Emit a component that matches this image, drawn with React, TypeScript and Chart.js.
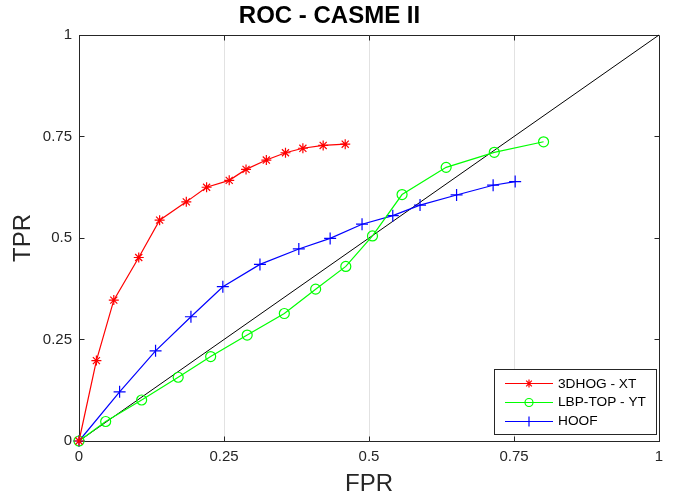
import React, { useEffect, useRef } from 'react';
import { Chart, registerables } from 'chart.js';

Chart.register(...registerables);

// ---- data ----
const tickValues = [0, 0.25, 0.5, 0.75, 1];
const tickLabels = ['0', '0.25', '0.5', '0.75', '1'];

const chartTitle = 'ROC - CASME II';
const xTitle = 'FPR';
const yTitle = 'TPR';
const seriesNames = ['3DHOG - XT', 'LBP-TOP - YT', 'HOOF'];

const hogFpr = [0, 0.030, 0.060, 0.103, 0.139, 0.185, 0.220, 0.259, 0.288, 0.323, 0.356, 0.386, 0.421, 0.459];
const hogTpr = [0, 0.198, 0.347, 0.452, 0.544, 0.589, 0.625, 0.642, 0.669, 0.692, 0.710, 0.721, 0.728, 0.731];

const lbpFpr = [0, 0.046, 0.108, 0.171, 0.227, 0.290, 0.354, 0.408, 0.460, 0.506, 0.557, 0.633, 0.716, 0.801];
const lbpTpr = [0, 0.048, 0.101, 0.157, 0.208, 0.261, 0.314, 0.374, 0.430, 0.505, 0.607, 0.674, 0.711, 0.737];

const hoofFpr = [0, 0.070, 0.132, 0.193, 0.248, 0.312, 0.379, 0.433, 0.488, 0.541, 0.588, 0.651, 0.714, 0.752];
const hoofTpr = [0, 0.121, 0.222, 0.306, 0.380, 0.435, 0.473, 0.499, 0.534, 0.555, 0.581, 0.606, 0.630, 0.639];

const chanceFpr = [0, 1];
const chanceTpr = [0, 1];

// ---- styles ----
const FONT = "'Liberation Sans', Arial, Helvetica, sans-serif";
const AXIS_COLOR = '#262626';
const GRID_COLOR = '#e2e2e2';
const LINE_W = 1.2;

const toPoints = (xs: number[], ys: number[]) => xs.map((x, i) => ({ x, y: ys[i] }));

const align = (p: number) => Math.round(p - 0.5) + 0.5;

function drawMarker(ctx: CanvasRenderingContext2D, style: string, x: number, y: number, r: number) {
  ctx.beginPath();
  if (style === 'circle') {
    ctx.arc(x, y, r, 0, Math.PI * 2);
  } else if (style === 'cross') {
    ctx.moveTo(x - r, y); ctx.lineTo(x + r, y);
    ctx.moveTo(x, y - r); ctx.lineTo(x, y + r);
  } else if (style === 'star') {
    ctx.moveTo(x - r, y); ctx.lineTo(x + r, y);
    ctx.moveTo(x, y - r); ctx.lineTo(x, y + r);
    const d = r * Math.SQRT1_2;
    ctx.moveTo(x - d, y - d); ctx.lineTo(x + d, y + d);
    ctx.moveTo(x - d, y + d); ctx.lineTo(x + d, y - d);
  }
  ctx.stroke();
}

const boxPlugin = {
  id: 'matlabBox',
  beforeDatasetsDraw(chart: any) {
    const { ctx, chartArea: a, scales } = chart;
    ctx.save();
    ctx.strokeStyle = AXIS_COLOR;
    ctx.lineWidth = 1;
    const L = align(a.left), R = align(a.right), T = align(a.top), B = align(a.bottom);
    ctx.beginPath();
    ctx.moveTo(L, T); ctx.lineTo(R, T); ctx.lineTo(R, B);
    ctx.stroke();
    const tl = 5;
    ctx.beginPath();
    tickValues.forEach((v) => {
      if (v <= 0 || v >= 1) return;
      const px = align(scales.x.getPixelForValue(v));
      ctx.moveTo(px, B); ctx.lineTo(px, B - tl);
      ctx.moveTo(px, T); ctx.lineTo(px, T + tl);
      const py = align(scales.y.getPixelForValue(v));
      ctx.moveTo(L, py); ctx.lineTo(L + tl, py);
      ctx.moveTo(R, py); ctx.lineTo(R - tl, py);
    });
    ctx.stroke();
    ctx.restore();
  },
};

const legendPlugin = {
  id: 'matlabLegend',
  afterDraw(chart: any) {
    const { ctx, chartArea: a } = chart;
    const w = 162, h = 65;
    const right = a.right - 3, bottom = a.bottom - 7;
    const left = right - w, top = bottom - h;
    ctx.save();
    ctx.fillStyle = '#ffffff';
    ctx.fillRect(left, top, w, h);
    ctx.strokeStyle = AXIS_COLOR;
    ctx.lineWidth = 1;
    ctx.strokeRect(align(left), align(top), w, h);
    ctx.font = `13.7px ${FONT}`;
    ctx.textBaseline = 'middle';
    ctx.textAlign = 'left';
    seriesNames.forEach((name, i) => {
      const ds = chart.data.datasets[i];
      const y = top + 14.3 + i * 18.9;
      ctx.strokeStyle = ds.borderColor;
      ctx.lineWidth = LINE_W;
      ctx.beginPath();
      ctx.moveTo(left + 11, Math.round(y) + 0.5);
      ctx.lineTo(left + 59, Math.round(y) + 0.5);
      ctx.stroke();
      drawMarker(ctx, ds.pointStyle, left + 35, Math.round(y) + 0.5, ds.pointStyle === 'cross' ? 5 : 4);
      ctx.fillStyle = '#000000';
      ctx.fillText(name, left + 64, y + 0.5);
    });
    ctx.restore();
  },
};

export default function App() {
  const ref = useRef<HTMLCanvasElement | null>(null);

  useEffect(() => {
    if (!ref.current) return;
    const tickCb = (v: any) => {
      const i = tickValues.indexOf(Number(v));
      return i >= 0 ? tickLabels[i] : '';
    };
    const series = (name: string, xs: number[], ys: number[], color: string, style: string, r: number) => ({
      label: name,
      data: toPoints(xs, ys),
      borderColor: color,
      backgroundColor: color,
      borderWidth: LINE_W,
      pointStyle: style,
      pointRadius: r,
      pointBorderWidth: LINE_W,
      pointBorderColor: color,
      pointBackgroundColor: 'rgba(0,0,0,0)',
      tension: 0,
      fill: false,
      clip: false,
    });
    const chart = new Chart(ref.current, {
      type: 'line',
      data: {
        datasets: [
          series(seriesNames[0], hogFpr, hogTpr, '#ff0000', 'star', 5),
          series(seriesNames[1], lbpFpr, lbpTpr, '#00ff00', 'circle', 5),
          series(seriesNames[2], hoofFpr, hoofTpr, '#0000ff', 'cross', 6),
          {
            label: 'chance',
            data: toPoints(chanceFpr, chanceTpr),
            borderColor: '#000000',
            borderWidth: 1,
            pointRadius: 0,
            tension: 0,
            fill: false,
            clip: false,
          },
        ] as any,
      },
      options: {
        animation: false,
        responsive: false,
        devicePixelRatio: 1,
        events: [],
        layout: { padding: { left: 0, right: 18, top: 0, bottom: 0 } },
        plugins: {
          legend: { display: false },
          tooltip: { enabled: false },
          title: {
            display: true,
            text: chartTitle,
            color: '#000000',
            font: { family: FONT, size: 24, weight: 'bold' },
            padding: { top: 2, bottom: 4.2 },
          },
        },
        scales: {
          x: {
            type: 'linear',
            position: 'bottom',
            min: 0,
            max: 1,
            afterBuildTicks: (s: any) => {
              s.ticks = tickValues.map((v) => ({ value: v }));
            },
            afterFit: (s: any) => {
              s.height = 59;
            },
            ticks: {
              callback: tickCb,
              autoSkip: false,
              maxRotation: 0,
              padding: 7,
              color: AXIS_COLOR,
              font: { family: FONT, size: 15 },
            },
            grid: {
              drawTicks: false,
              lineWidth: 1,
              color: (c: any) =>
                c.tick && c.tick.value > 0 && c.tick.value < 1 ? GRID_COLOR : 'rgba(0,0,0,0)',
            },
            border: { display: true, color: AXIS_COLOR, width: 1 },
            title: {
              display: true,
              text: xTitle,
              color: AXIS_COLOR,
              font: { family: FONT, size: 24 },
              padding: { top: 0, bottom: 1.6 },
            },
          },
          y: {
            type: 'linear',
            position: 'left',
            min: 0,
            max: 1,
            afterBuildTicks: (s: any) => {
              s.ticks = tickValues.map((v) => ({ value: v }));
            },
            afterFit: (s: any) => {
              s.width = 79;
            },
            ticks: {
              callback: tickCb,
              autoSkip: false,
              padding: 7,
              color: AXIS_COLOR,
              font: { family: FONT, size: 15 },
            },
            grid: {
              drawTicks: false,
              color: 'rgba(0,0,0,0)',
            },
            border: { display: true, color: AXIS_COLOR, width: 1 },
            title: {
              display: true,
              text: yTitle,
              color: AXIS_COLOR,
              font: { family: FONT, size: 24 },
              padding: { top: 9.3, bottom: 0 },
            },
          },
        },
      } as any,
      plugins: [boxPlugin, legendPlugin],
    });
    return () => chart.destroy();
  }, []);

  return (
    <div style={{ position: 'absolute', left: 0, top: 0, width: 677, height: 500, background: '#ffffff' }}>
      <canvas ref={ref} width={677} height={500} style={{ display: 'block' }} />
    </div>
  );
}
